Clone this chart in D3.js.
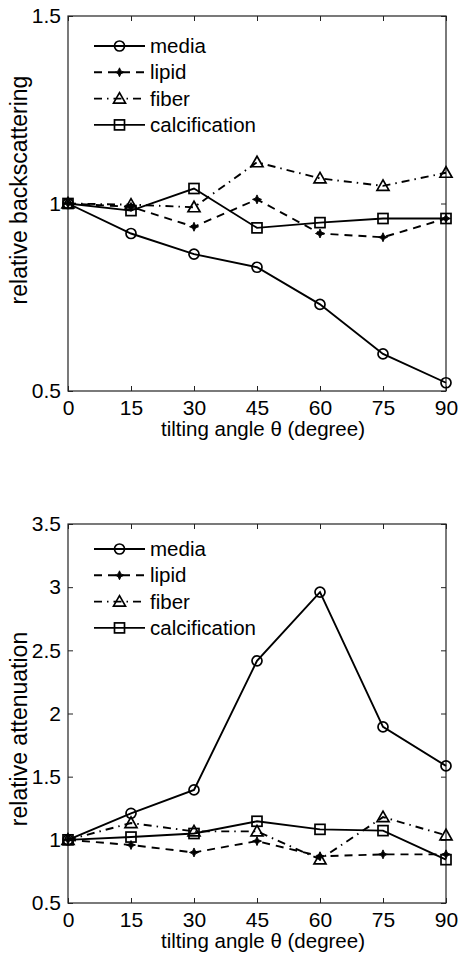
<!DOCTYPE html>
<html>
<head>
<meta charset="utf-8">
<script src="https://cdn.jsdelivr.net/npm/d3@7"></script>
<style>
  body { margin: 0; background: #fff; }
  svg { display: block; font-family: "Liberation Sans", Arial, sans-serif; }
</style>
</head>
<body>
<svg id="vis" width="458" height="953"></svg>
<script>
// ************************** DATA **************************//
var angles = [0, 15, 30, 45, 60, 75, 90];
var seriesNames = ["media", "lipid", "fiber", "calcification"];

// relative backscattering (top panel)
var backMedia = [1.0, 0.92, 0.865, 0.83, 0.731, 0.599, 0.522];
var backLipid = [1.0, 0.991, 0.938, 1.011, 0.92, 0.91, 0.96];
var backFiber = [1.0, 0.997, 0.99, 1.11, 1.067, 1.047, 1.082];
var backCalc  = [1.0, 0.981, 1.04, 0.935, 0.949, 0.96, 0.96];

// relative attenuation (bottom panel)
var attMedia = [1.0, 1.21, 1.395, 2.417, 2.961, 1.894, 1.585];
var attLipid = [1.0, 0.959, 0.90, 0.99, 0.87, 0.885, 0.885];
var attFiber = [1.0, 1.133, 1.067, 1.067, 0.845, 1.18, 1.036];
var attCalc  = [1.0, 1.022, 1.05, 1.147, 1.083, 1.073, 0.843];

var xTicks = [0, 15, 30, 45, 60, 75, 90];
var backTicks = [0.5, 1, 1.5];
var attTicks = [0.5, 1, 1.5, 2, 2.5, 3, 3.5];

// ************************** STYLES **************************//
var styles = {
  media: { dash: null, marker: "circle" },
  lipid: { dash: "8,6", marker: "star" },
  fiber: { dash: "8,5,1.5,5", marker: "triangle" },
  calcification: { dash: null, marker: "square" }
};

var svg = d3.select("#vis");
var left = 68, right = 446;

var x = d3.scaleLinear().domain([0, 90]).range([left, right]);

function drawMarker(g, type, cx, cy) {
  if (type === "circle") {
    g.append("circle").attr("cx", cx).attr("cy", cy).attr("r", 5)
      .attr("fill", "none").attr("stroke", "#000").attr("stroke-width", 1.7);
  } else if (type === "square") {
    g.append("rect").attr("x", cx - 5).attr("y", cy - 5).attr("width", 10).attr("height", 10)
      .attr("fill", "none").attr("stroke", "#000").attr("stroke-width", 1.7);
  } else if (type === "triangle") {
    g.append("path")
      .attr("d", "M0,-6L6,4.5L-6,4.5Z")
      .attr("transform", `translate(${cx},${cy})`)
      .attr("fill", "none").attr("stroke", "#000").attr("stroke-width", 1.7);
  } else {
    g.append("path")
      .attr("d", "M0,-4.5L1.4,-1.4L4.5,0L1.4,1.4L0,4.5L-1.4,1.4L-4.5,0L-1.4,-1.4Z")
      .attr("transform", `translate(${cx},${cy})`)
      .attr("fill", "#000").attr("stroke", "#000").attr("stroke-width", 0.9);
  }
}

function drawPanel(opts) {
  var y = d3.scaleLinear().domain(opts.domain).range([opts.bottom, opts.top]);
  var g = svg.append("g");

  // box
  g.append("rect")
    .attr("x", left).attr("y", opts.top)
    .attr("width", right - left).attr("height", opts.bottom - opts.top)
    .attr("fill", "none").attr("stroke", "#222").attr("stroke-width", 1.2);

  // axes with inward ticks
  g.append("g").attr("transform", `translate(0,${opts.bottom})`)
    .call(d3.axisBottom(x).tickValues(xTicks).tickSize(-5).tickPadding(9))
    .call(a => a.select(".domain").remove())
    .call(a => a.selectAll(".tick line").attr("stroke", "#222"))
    .call(a => a.selectAll(".tick text").attr("font-size", 21).attr("fill", "#000")
      .attr("font-family", "Liberation Sans, Arial, sans-serif"));
  g.append("g").attr("transform", `translate(0,${opts.top})`)
    .call(d3.axisTop(x).tickValues(xTicks).tickSize(-5).tickFormat(""))
    .call(a => a.select(".domain").remove())
    .call(a => a.selectAll(".tick line").attr("stroke", "#222"));
  g.append("g").attr("transform", `translate(${left},0)`)
    .call(d3.axisLeft(y).tickValues(opts.ticks).tickSize(-5).tickPadding(7).tickFormat(d3.format("")))
    .call(a => a.select(".domain").remove())
    .call(a => a.selectAll(".tick line").attr("stroke", "#222"))
    .call(a => a.selectAll(".tick text").attr("font-size", 21).attr("fill", "#000")
      .attr("font-family", "Liberation Sans, Arial, sans-serif"));
  g.append("g").attr("transform", `translate(${right},0)`)
    .call(d3.axisRight(y).tickValues(opts.ticks).tickSize(-5).tickFormat(""))
    .call(a => a.select(".domain").remove())
    .call(a => a.selectAll(".tick line").attr("stroke", "#222"));

  // titles
  g.append("text")
    .attr("x", (left + right) / 2 + 6).attr("y", opts.bottom + 45)
    .attr("text-anchor", "middle").attr("font-size", 20.5)
    .text("tilting angle θ (degree)");
  g.append("text")
    .attr("transform", `translate(27,${opts.ylabelY}) rotate(-90)`)
    .attr("text-anchor", "middle").attr("font-size", 23)
    .text(opts.ylabel);

  // series
  var line = d3.line().x((d, i) => x(angles[i])).y(d => y(d));
  opts.series.forEach(function (vals, k) {
    var st = styles[seriesNames[k]];
    g.append("path").datum(vals)
      .attr("d", line)
      .attr("fill", "none").attr("stroke", "#000").attr("stroke-width", 1.9)
      .attr("stroke-dasharray", st.dash);
  });
  opts.series.forEach(function (vals, k) {
    var st = styles[seriesNames[k]];
    vals.forEach((v, i) => drawMarker(g, st.marker, x(angles[i]), y(v)));
  });

  // legend
  seriesNames.forEach(function (name, k) {
    var st = styles[name];
    var ly = opts.top + opts.legendTop + k * 26.3;
    g.append("line").attr("x1", 94).attr("x2", 145).attr("y1", ly).attr("y2", ly)
      .attr("stroke", "#000").attr("stroke-width", 1.9)
      .attr("stroke-dasharray", st.dash);
    drawMarker(g, st.marker, 119.5, ly);
    g.append("text").attr("x", 150).attr("y", ly).attr("dy", "0.35em")
      .attr("font-size", 20.5).text(name);
  });
}

drawPanel({
  top: 16, bottom: 391, domain: [0.5, 1.5], ticks: backTicks,
  series: [backMedia, backLipid, backFiber, backCalc],
  ylabel: "relative backscattering", ylabelY: 190, legendTop: 30
});

drawPanel({
  top: 524, bottom: 903, domain: [0.5, 3.5], ticks: attTicks,
  series: [attMedia, attLipid, attFiber, attCalc],
  ylabel: "relative attenuation", ylabelY: 729, legendTop: 25
});
</script>
</body>
</html>
